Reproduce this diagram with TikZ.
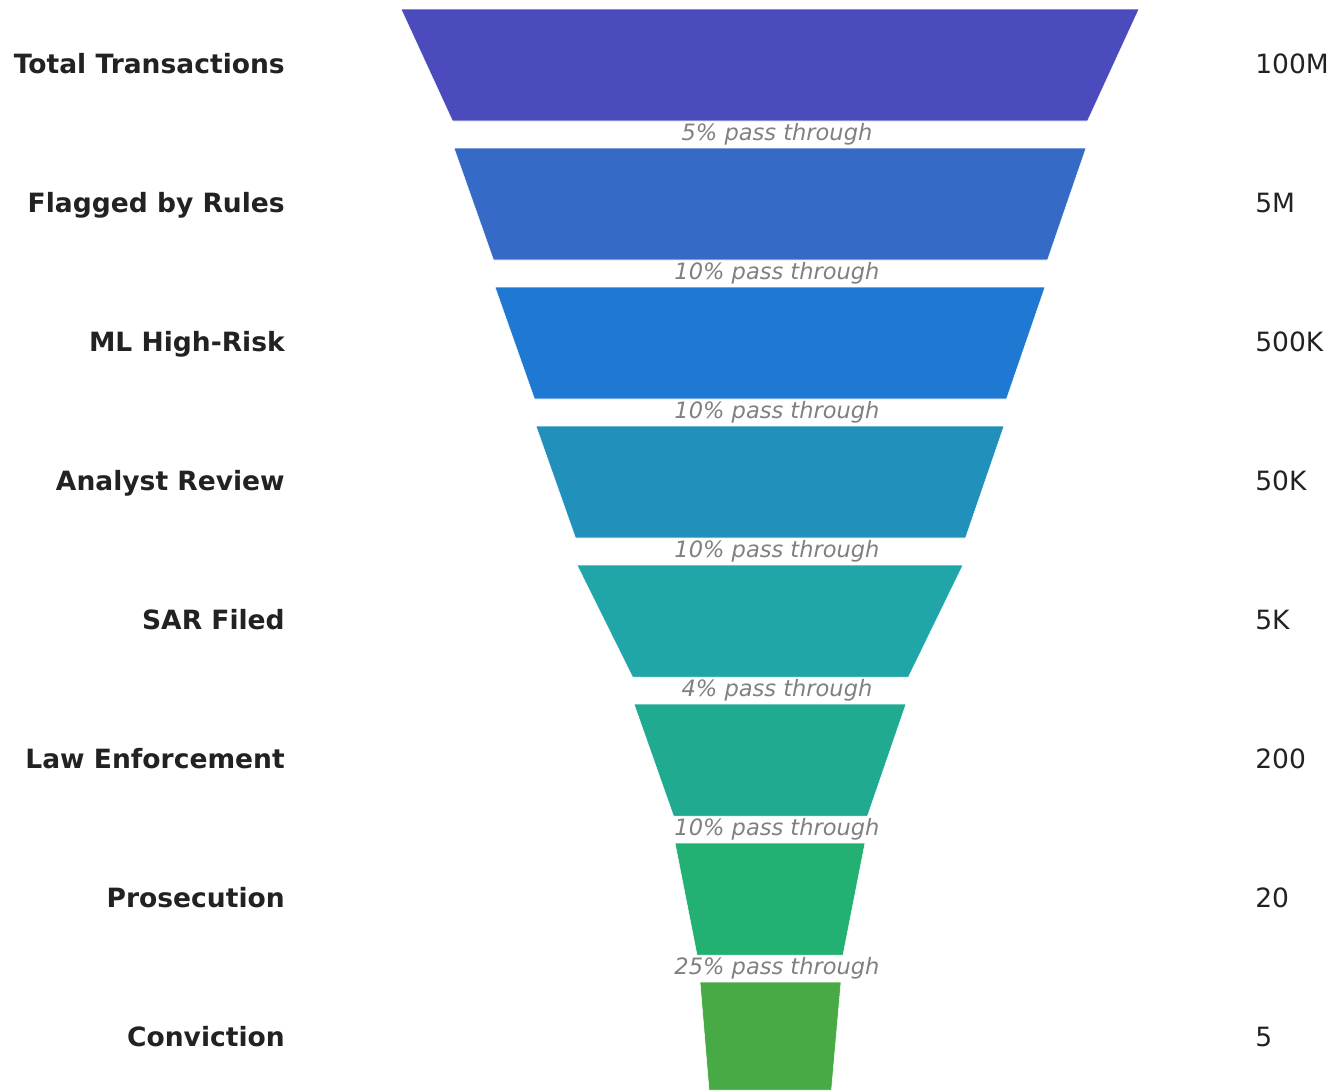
\documentclass[tikz,border=0pt]{standalone}
\usepackage{fontspec}
\setmainfont{DejaVu Sans}
\usepackage{xcolor}
\usetikzlibrary{positioning}
\definecolor{stageA}{RGB}{75,75,189}
\definecolor{stageB}{RGB}{53,106,198}
\definecolor{stageC}{RGB}{31,120,209}
\definecolor{stageD}{RGB}{33,145,188}
\definecolor{stageE}{RGB}{32,166,168}
\definecolor{stageF}{RGB}{32,170,143}
\definecolor{stageG}{RGB}{34,177,114}
\definecolor{stageH}{RGB}{71,170,69}
\definecolor{namegray}{RGB}{34,34,34}
\definecolor{passgray}{RGB}{128,128,128}

\begin{document}
\begin{tikzpicture}[x=0.75pt,y=-0.75pt,
  stage/.style={draw=white, line width=0.4pt},
  stagename/.style={anchor=base east, inner sep=0pt, text=namegray, font=\fontsize{19.9}{23}\selectfont\bfseries},
  stagecount/.style={anchor=base west, inner sep=0pt, text=namegray, font=\fontsize{19.9}{23}\selectfont},
  passrate/.style={anchor=base, inner sep=0pt, text=passgray, font=\fontsize{16.9}{20}\selectfont\itshape}]
\useasboundingbox (0,0) rectangle (1333,1090);

% funnel stages
\filldraw[stage, fill=stageA] (401,9) -- (1139,9) -- (1087.5,121) -- (452.5,121) -- cycle;
\filldraw[stage, fill=stageB] (454,148) -- (1086,148) -- (1047.5,260) -- (493.5,260) -- cycle;
\filldraw[stage, fill=stageC] (495,287) -- (1045,287) -- (1006.5,399) -- (534.5,399) -- cycle;
\filldraw[stage, fill=stageD] (536,426) -- (1004,426) -- (965.5,538) -- (575.5,538) -- cycle;
\filldraw[stage, fill=stageE] (577,565) -- (963,565) -- (908.5,677) -- (632.5,677) -- cycle;
\filldraw[stage, fill=stageF] (634,704) -- (906,704) -- (867.5,816) -- (673.5,816) -- cycle;
\filldraw[stage, fill=stageG] (675,843) -- (865,843) -- (843,955) -- (697,955) -- cycle;
\filldraw[stage, fill=stageH] (700,982) -- (841,982) -- (831.5,1090) -- (709,1090) -- cycle;

% stage names
\node[stagename] (total) at (285,73) {Total Transactions};
\node[stagename] (flagged) at (285,212) {Flagged by Rules};
\node[stagename] (mlrisk) at (285,351) {ML High-Risk};
\node[stagename] (analyst) at (285,490) {Analyst Review};
\node[stagename] (sar) at (285,629) {SAR Filed};
\node[stagename] (lawenf) at (285,768) {Law Enforcement};
\node[stagename] (prosec) at (285,907) {Prosecution};
\node[stagename] (convict) at (285,1046) {Conviction};

% counts
\node[stagecount] (totalN) at (1255,73) {100M};
\node[stagecount] (flaggedN) at (1255,212) {5M};
\node[stagecount] (mlriskN) at (1255,351) {500K};
\node[stagecount] (analystN) at (1255,490) {50K};
\node[stagecount] (sarN) at (1255,629) {5K};
\node[stagecount] (lawenfN) at (1255,768) {200};
\node[stagecount] (prosecN) at (1255,907) {20};
\node[stagecount] (convictN) at (1255,1046) {5};

% pass-through rates
\node[passrate] (passA) at (777,140) {5\% pass through};
\node[passrate] (passB) at (777,279) {10\% pass through};
\node[passrate] (passC) at (777,418) {10\% pass through};
\node[passrate] (passD) at (777,557) {10\% pass through};
\node[passrate] (passE) at (777,696) {4\% pass through};
\node[passrate] (passF) at (777,835) {10\% pass through};
\node[passrate] (passG) at (777,974) {25\% pass through};
\end{tikzpicture}
\end{document}
